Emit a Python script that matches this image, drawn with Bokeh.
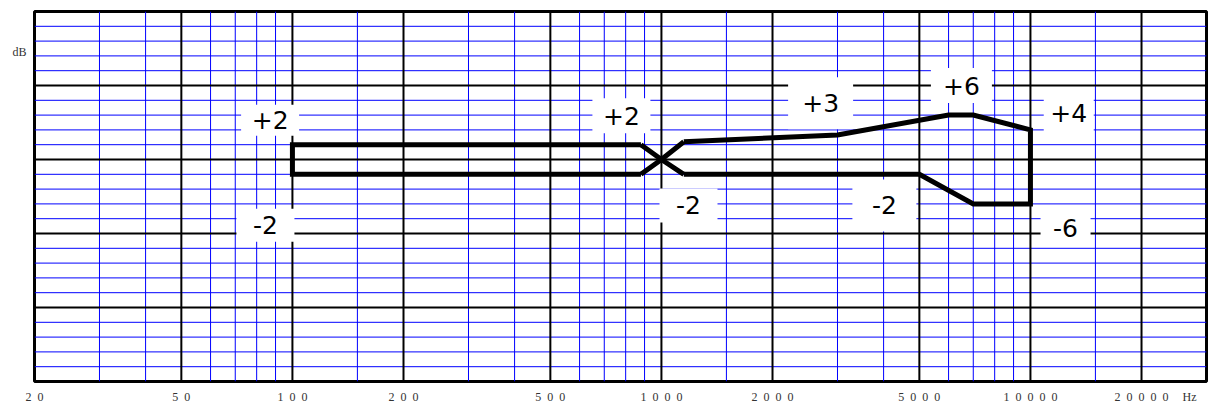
from bokeh.plotting import figure
from bokeh.models import FixedTicker, ColumnDataSource, Span
from bokeh.embed import file_html
from bokeh.resources import INLINE
from bokeh.core.properties import value

# ---- axis / grid data ----
tick_freqs = [20, 50, 100, 200, 500, 1000, 2000, 5000, 10000, 20000]
tick_labels = ["20", "50", "100", "200", "500", "1000", "2000", "5000", "10000", "20000"]
unit_x_label = "Hz"
unit_x_pos = 27000      # where the "Hz" unit text sits on the frequency scale
unit_y_label = "dB"
unit_y_pos = 14.5       # where the "dB" unit text sits on the level scale
major_freqs = [50, 100, 200, 500, 1000, 2000, 5000, 10000, 20000]
minor_freqs = [30, 40, 60, 70, 80, 90, 150, 300, 400, 600, 700, 800, 900,
               1500, 3000, 4000, 6000, 7000, 8000, 9000, 15000]
major_db = [-20, -10, 0, 10]
minor_db = [-28, -26, -24, -22, -18, -16, -14, -12, -8, -6, -4, -2,
            2, 4, 6, 8, 12, 14, 16, 18]

# ---- tolerance mask ----
box_freq = [880, 100, 100, 880]
box_db = [2, 2, -2, -2]
cross_a_freq = [880, 1000, 1150]
cross_a_db = [2, 0, -2]
cross_b_freq = [880, 1000, 1150]
cross_b_db = [-2, 0, 2.4]
hf_freq = [1150, 3000, 6000, 7000, 10000, 10000, 7000, 5000, 1150]
hf_db = [2.4, 3.3, 6, 6, 4, -6, -6, -2, -2]

# ---- annotation labels ----
label_text = ["+2", "-2", "+2", "-2", "+3", "-2", "+6", "+4", "-6"]
label_freq = [87, 84.5, 779, 1184, 2700, 4020, 6500, 12700, 12450]
label_db = [5.3, -8.9, 5.9, -6.2, 7.6, -6.2, 10, 6.3, -9.2]
box_w = [58, 58, 58, 58, 65, 64, 61, 50, 50]
box_h = [31, 33, 35, 34, 52, 52, 35, 38, 36]

p = figure(frame_width=1172, frame_height=370, x_axis_type="log",
           x_range=(20, 30000), y_range=(-30, 20),
           output_backend="svg", toolbar_location=None,
           min_border_left=34, min_border_right=4, min_border_top=11,
           min_border_bottom=23)
p.background_fill_color = "white"
p.border_fill_color = "white"
p.outline_line_color = "black"
p.outline_line_width = 3
p.outline_line_alpha = 1.0

p.xgrid.visible = False
p.ygrid.visible = False

serif = "Liberation Serif"
grey = "#333333"

ax = p.xaxis[0]
ax.ticker = FixedTicker(ticks=tick_freqs + [unit_x_pos])
sp = "\u00a0\u00a0"
overrides = {f: sp.join(list(t)) for f, t in zip(tick_freqs, tick_labels)}
overrides[unit_x_pos] = unit_x_label
ax.major_label_overrides = overrides
ax.axis_line_color = None
ax.major_tick_line_color = None
ax.minor_tick_line_color = None
ax.major_tick_out = 0
ax.major_tick_in = 0
ax.major_label_standoff = 8
ax.major_label_text_font = serif
ax.major_label_text_font_size = "12px"
ax.major_label_text_color = grey

ay = p.yaxis[0]
ay.ticker = FixedTicker(ticks=[unit_y_pos])
ay.major_label_overrides = {unit_y_pos: unit_y_label}
ay.axis_line_color = None
ay.major_tick_line_color = None
ay.minor_tick_line_color = None
ay.major_tick_out = 0
ay.major_tick_in = 0
ay.major_label_standoff = 8
ay.major_label_text_font = serif
ay.major_label_text_font_size = "12px"
ay.major_label_text_color = grey

for f in minor_freqs:
    p.add_layout(Span(location=f, dimension="height", line_color="#0000ff",
                      line_width=1, level="underlay"))
for d in minor_db:
    p.add_layout(Span(location=d, dimension="width", line_color="#0000ff",
                      line_width=1, level="underlay"))
for f in major_freqs:
    p.add_layout(Span(location=f, dimension="height", line_color="black",
                      line_width=2, level="underlay"))
for d in major_db:
    p.add_layout(Span(location=d, dimension="width", line_color="black",
                      line_width=2, level="underlay"))

src = ColumnDataSource(dict(f=label_freq, db=label_db, t=label_text, w=box_w, h=box_h))
p.rect(x="f", y="db", width="w", height="h", width_units="screen",
       height_units="screen", fill_color="white", line_color=None, source=src)
p.text(x="f", y="db", text="t", source=src, text_align="center",
       text_baseline="middle", text_font=value("DejaVu Sans"),
       text_font_size=value("25px"), text_color="black")

lw = 5
p.line(box_freq, box_db, line_color="black", line_width=lw, line_join="miter")
p.line(cross_a_freq, cross_a_db, line_color="black", line_width=lw, line_join="miter")
p.line(cross_b_freq, cross_b_db, line_color="black", line_width=lw, line_join="miter")
p.line(hf_freq, hf_db, line_color="black", line_width=lw, line_join="miter")

open("out.html", "w").write(file_html(p, INLINE))
